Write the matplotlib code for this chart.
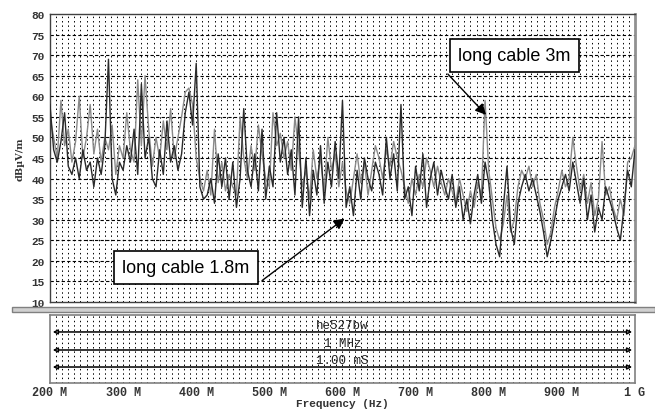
import numpy as np
import matplotlib.pyplot as plt
from matplotlib.patches import Rectangle

# sweep frequencies (MHz), 5 MHz steps
freq = np.arange(200, 1001, 5)

# long cable 1.8m (dark trace), dBuV/m
cable_18 = [58, 47, 44, 49, 56, 43, 41, 45, 40, 47,
            42, 44, 38, 45, 41, 48, 69, 40, 36, 44,
            42, 48, 44, 52, 41, 63, 45, 50, 40, 38,
            47, 41, 54, 44, 48, 42, 46, 56, 61, 53,
            68, 38, 35, 36, 40, 34, 46, 38, 45, 35,
            44, 33, 40, 57, 42, 38, 46, 37, 52, 35,
            43, 38, 56, 44, 50, 41, 47, 36, 55, 33,
            45, 31, 42, 36, 48, 34, 44, 38, 49, 40,
            59, 33, 38, 31, 42, 35, 45, 40, 37, 44,
            41, 36, 50, 40, 46, 37, 58, 35, 38, 31,
            43, 37, 46, 33, 40, 44, 36, 42, 38, 35,
            41, 33, 38, 30, 35, 29, 36, 41, 34, 44,
            39, 30, 24, 21, 33, 43, 28, 24, 34, 38,
            41, 37, 40, 36, 32, 27, 21, 25, 30, 35,
            38, 41, 37, 44, 39, 34, 40, 30, 36, 27,
            33, 30, 38, 35, 32, 28, 25, 33, 42, 38,
            47]

# long cable 3m (grey trace), dBuV/m
cable_3 = [55, 50, 45, 59, 48, 52, 44, 49, 60, 45,
           50, 58, 46, 52, 44, 50, 47, 53, 41, 48,
           45, 56, 47, 44, 64, 48, 65, 52, 43, 50,
           45, 54, 47, 57, 45, 50, 55, 61, 62, 58,
           45, 40, 37, 42, 36, 52, 39, 44, 37, 41,
           38, 36, 55, 45, 40, 48, 42, 53, 46, 40,
           38, 56, 48, 51, 45, 49, 42, 55, 47, 38,
           42, 35, 47, 40, 45, 37, 50, 42, 46, 38,
           44, 37, 34, 40, 46, 39, 44, 36, 42, 48,
           45, 40, 47, 43, 49, 45, 42, 38, 34, 40,
           36, 41, 38, 45, 42, 38, 43, 39, 36, 40,
           37, 34, 40, 36, 32, 37, 33, 39, 36, 59,
           42, 35, 28, 25, 29, 36, 27, 30, 38, 42,
           40, 43, 38, 41, 34, 30, 24, 27, 33, 37,
           42, 38, 40, 50, 43, 37, 41, 34, 39, 31,
           35, 49, 36, 38, 33, 30, 35, 31, 44, 45,
           48]

xtick_vals = [200, 300, 400, 500, 600, 700, 800, 900, 1000]
xtick_text = ["200 M", "300 M", "400 M", "500 M", "600 M", "700 M", "800 M", "900 M", "1 G"]
ytick_vals = [10, 15, 20, 25, 30, 35, 40, 45, 50, 55, 60, 65, 70, 75, 80]
info_lines = ["he527bw", "1 MHz", "1.00 mS"]

mono = "Liberation Mono"

fig = plt.figure(figsize=(6.55, 4.1), dpi=100)
ax = fig.add_axes([0.0763, 0.261, 0.8931, 0.7024])
ax2 = fig.add_axes([0.0763, 0.0634, 0.8931, 0.166])

vgrid = np.linspace(200, 1000, 97)[1:-1]

# main panel
for v in vgrid:
    ax.axvline(v, color="black", lw=0.7, ls=(0, (1.5, 3)), zorder=1)
for h in ytick_vals[1:-1]:
    ax.axhline(h, color="black", lw=0.8, ls=(0, (3, 2)), zorder=1)

ax.plot(freq, cable_3, color="#8a8a8a", lw=1.0, zorder=2)
ax.plot(freq, cable_18, color="#2a2a2a", lw=1.0, zorder=3)

ax.set_xlim(200, 1000)
ax.set_ylim(10, 80)
ax.set_xticks([])
ax.set_yticks(ytick_vals)
ax.set_yticklabels([str(t) for t in ytick_vals], fontfamily=mono, fontweight="bold",
                   fontsize=8, color="#333333")
ax.tick_params(axis="y", length=0, pad=4)
ax.set_ylabel("dBµV/m", fontfamily="DejaVu Serif", fontweight="bold", fontsize=7,
              color="#333333", labelpad=5)
for s in ["top", "left", "bottom"]:
    ax.spines[s].set_color("#404040")
    ax.spines[s].set_linewidth(1.0)
ax.spines["right"].set_color("#909090")
ax.spines["right"].set_linewidth(2.0)

# annotations
ax.annotate("", xy=(799, 55), xytext=(741.5, 65.9),
            arrowprops=dict(arrowstyle="-|>", color="black", lw=1.0, mutation_scale=16),
            zorder=5)
ax.text(835, 69.9, "long cable 3m", fontfamily="Liberation Sans", fontsize=13,
        ha="center", va="center", zorder=6,
        bbox=dict(boxstyle="square,pad=0.45", fc="white", ec="black", lw=1.2))
ax.annotate("", xy=(606, 30.7), xytext=(487, 14.8),
            arrowprops=dict(arrowstyle="-|>", color="black", lw=1.0, mutation_scale=16),
            zorder=5)
ax.text(386, 18.4, "long cable 1.8m", fontfamily="Liberation Sans", fontsize=13,
        ha="center", va="center", zorder=6,
        bbox=dict(boxstyle="square,pad=0.45", fc="white", ec="black", lw=1.2))

# lower info panel
for v in vgrid:
    ax2.axvline(v, color="black", lw=0.7, ls=(0, (1.5, 3)), zorder=1)
ax2.set_xlim(200, 1000)
ax2.set_ylim(0, 1)
line_y = [0.75, 0.485, 0.235]
for ly, txt in zip(line_y, info_lines):
    ax2.annotate("", xy=(200, ly), xytext=(1000, ly),
                 arrowprops=dict(arrowstyle="<|-|>", color="black", lw=1.1,
                                 mutation_scale=7, fc="white"), zorder=3)
    ax2.text(600, ly + 0.1, txt, fontfamily=mono, fontsize=9, ha="center",
             va="center", color="#222222", zorder=4)
ax2.set_yticks([])
ax2.set_xticks(xtick_vals)
ax2.set_xticklabels(xtick_text, fontfamily=mono, fontweight="bold", fontsize=8.5,
                    color="#333333")
ax2.tick_params(axis="x", length=0, pad=2)
ax2.set_xlabel("Frequency (Hz)", fontfamily=mono, fontweight="bold", fontsize=8,
               color="#333333", labelpad=0)
for s in ax2.spines.values():
    s.set_color("#808080")
    s.set_linewidth(1.2)

# separator bar between the panels
fig.add_artist(Rectangle((12 / 655, 1 - 313 / 410), 1 - 12 / 655, 5 / 410,
                         transform=fig.transFigure, fc="#d0d0d0", ec="#808080", lw=1.0))

fig.savefig("out.png", dpi=100)
